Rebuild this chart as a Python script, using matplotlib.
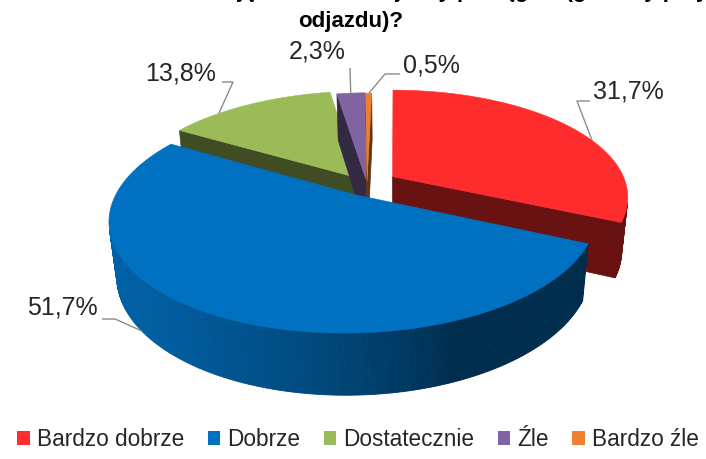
import numpy as np
import matplotlib
matplotlib.use("Agg")
import matplotlib.pyplot as plt
from matplotlib.patches import Polygon, Patch
from matplotlib import font_manager
from matplotlib.colors import to_rgb

# ---------------- data ----------------
categories = ["Bardzo dobrze", "Dobrze", "Dostatecznie", "Źle", "Bardzo źle"]
values = [31.7, 51.7, 13.8, 2.3, 0.5]
value_labels = ["31,7%", "51,7%", "13,8%", "2,3%", "0,5%"]
colors = ["#FE2C2C", "#0070C0", "#9BBB59", "#8064A2", "#F0802F"]
explode = [0.13, 0.11, 0.07, 0.035, 0.03]
title_line1 = "Jak ocenia Pan/Pani informację o rozkładzie jazdy pociągów (godziny przyjazdu i"
title_line2 = "odjazdu)?"

# ---------------- fonts ----------------
names = {f.name for f in font_manager.fontManager.ttflist}
if "Liberation Sans Narrow" in names:
    FONT = ["Liberation Sans Narrow", "DejaVu Sans"]
    LBL_SIZE, LEG_SIZE, TTL_SIZE = 21, 20, 19
else:
    FONT = ["Liberation Sans", "DejaVu Sans"]
    LBL_SIZE, LEG_SIZE, TTL_SIZE = 18, 16.3, 16
plt.rcParams["font.family"] = FONT

W, H = 706, 459
fig = plt.figure(figsize=(W / 100, H / 100), dpi=100)
ax = fig.add_axes([0, 0, 1, 1])
ax.set_xlim(0, W)
ax.set_ylim(H, 0)
ax.axis("off")

# ---------------- 3D pie projection ----------------
CX, CY = 367, 184
S = 234
PHI = np.radians(27)
DIST = 4.5
XOFF = -0.12
THICK = 0.26
CAM = np.array([-XOFF, -DIST * np.cos(PHI), DIST * np.sin(PHI)])


def proj(X, Y, Z):
    X = np.asarray(X, float); Y = np.asarray(Y, float); Z = np.asarray(Z, float)
    depth = DIST + Y * np.cos(PHI) - Z * np.sin(PHI)
    up = Y * np.sin(PHI) + Z * np.cos(PHI)
    f = S * DIST / depth
    return CX + f * (X + XOFF) - S * XOFF, CY - f * up


def shade(c, k):
    r, g, b = to_rgb(c)
    return (r * k, g * k, b * k)


def facing(normal_ang, px, py, pz=0.0):
    n = np.array([np.cos(normal_ang), np.sin(normal_ang), 0.0])
    return np.dot(n, CAM - np.array([px, py, pz])) > 0


total = sum(values)
slices = []
cum = 0.0
for i, v in enumerate(values):
    hi = 90 - cum / total * 360
    lo = hi - v / total * 360
    cum += v
    mid = np.radians((lo + hi) / 2)
    ex, ey = explode[i] * np.cos(mid), explode[i] * np.sin(mid)
    slices.append(dict(i=i, lo=np.radians(lo), hi=np.radians(hi), ex=ex, ey=ey))

order = sorted(slices, key=lambda s: -s["ey"])
for s in order:
    i, lo, hi, ex, ey = s["i"], s["lo"], s["hi"], s["ex"], s["ey"]
    col = colors[i]
    # cut faces
    for a, nrm in ((lo, lo - np.pi / 2), (hi, hi + np.pi / 2)):
        if facing(nrm, ex, ey):
            X = [ex, ex + np.cos(a), ex + np.cos(a), ex]
            Y = [ey, ey + np.sin(a), ey + np.sin(a), ey]
            Z = [0, 0, -THICK, -THICK]
            px, py = proj(X, Y, Z)
            ax.add_patch(Polygon(np.c_[px, py], closed=True, fc=shade(col, 0.41),
                                 ec=shade(col, 0.41), lw=0.5))
    # outer wall
    n = max(4, int(np.degrees(hi - lo) * 1.5))
    ts = np.linspace(lo, hi, n + 1)
    for k in range(n):
        t0, t1 = ts[k], ts[k + 1]
        tm = (t0 + t1) / 2
        if not facing(tm, ex + np.cos(tm), ey + np.sin(tm)):
            continue
        d = -0.9 * np.cos(tm) - 0.35 * np.sin(tm)
        fac = 0.40 + 0.48 * np.clip(d, 0, 1) ** 0.8
        X = [ex + np.cos(t0), ex + np.cos(t1), ex + np.cos(t1), ex + np.cos(t0)]
        Y = [ey + np.sin(t0), ey + np.sin(t1), ey + np.sin(t1), ey + np.sin(t0)]
        Z = [0, 0, -THICK, -THICK]
        px, py = proj(X, Y, Z)
        ax.add_patch(Polygon(np.c_[px, py], closed=True, fc=shade(col, fac),
                             ec=shade(col, fac), lw=0.6))
    # top face
    tt = np.linspace(lo, hi, n * 2 + 2)
    X = np.r_[ex, ex + np.cos(tt)]
    Y = np.r_[ey, ey + np.sin(tt)]
    px, py = proj(X, Y, np.zeros_like(X))
    ax.add_patch(Polygon(np.c_[px, py], closed=True, fc=col, ec=col, lw=0.4))

# ---------------- labels with leader lines ----------------
label_style = [
    dict(xy=(593, 91), ha="left", elbow=[(590, 101), (577, 101)], ang=22, z=0.0),
    dict(xy=(98, 307), ha="right", elbow=[(102, 319), (115, 319)], ang=218, z=-THICK),
    dict(xy=(216, 73), ha="right", elbow=[(222, 82), (233, 82)], ang=135, z=0.0),
    dict(xy=(346, 52), ha="right", elbow=[(350, 68)], ang=96, z=0.0),
    dict(xy=(403, 66), ha="left", elbow=[(400, 74), (385, 74)], ang=90.8, z=0.0),
]
for s in slices:
    i = s["i"]
    st = label_style[i]
    a = np.radians(st["ang"])
    ax_, ay_ = proj(s["ex"] + np.cos(a), s["ey"] + np.sin(a), st["z"])
    pts = st["elbow"] + [(float(ax_), float(ay_))]
    ax.plot([p[0] for p in pts], [p[1] for p in pts], color="#8c8c8c", lw=1.0,
            solid_capstyle="butt", zorder=5)
    ax.text(st["xy"][0], st["xy"][1], value_labels[i], ha=st["ha"], va="center",
            fontsize=LBL_SIZE, color="#262626", zorder=6)

# ---------------- title (first line clipped at top, as in the source) ----------------
fig.text(0.497, 1 - 27 / H, title_line1 + "\n" + title_line2, ha="center", va="baseline",
         fontsize=TTL_SIZE, fontweight="bold", color="black", linespacing=1.55,
         multialignment="center")

# ---------------- legend ----------------
handles = [Patch(facecolor=c, edgecolor="none") for c in colors]
fig.legend(handles, categories, loc="lower center", bbox_to_anchor=(0.507, -0.003), ncol=5,
           frameon=False, fontsize=LEG_SIZE, handlelength=0.55, handleheight=0.55,
           handletextpad=0.3, columnspacing=1.05, labelcolor="#262626",
           borderpad=0.2, borderaxespad=0.2)

fig.savefig("out.png", dpi=100, facecolor="white")
